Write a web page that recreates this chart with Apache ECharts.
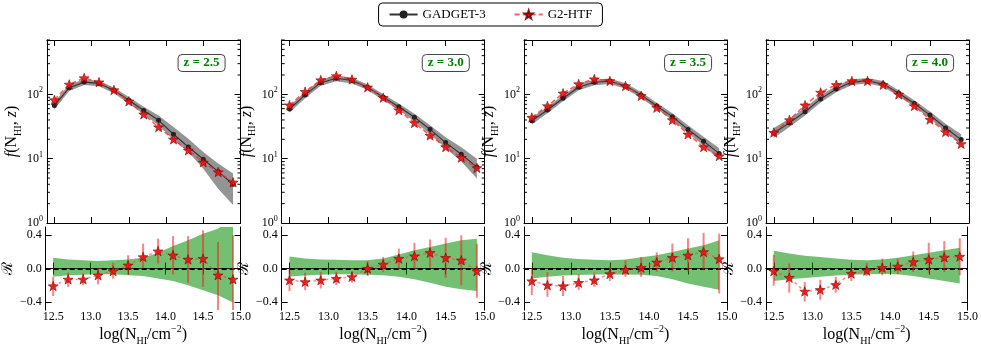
<!DOCTYPE html>
<html><head><meta charset="utf-8">
<script src="https://cdn.jsdelivr.net/npm/echarts@6/dist/echarts.min.js"></script>
<style>html,body{margin:0;padding:0;background:#fff}#c{width:981px;height:347px}</style>
</head><body><div id="c"></div>
<script>
// ---------- data ----------
const logN = [12.5,12.7,12.9,13.1,13.3,13.5,13.7,13.9,14.1,14.3,14.5,14.7,14.9];
const xTicks = [12.5,13.0,13.5,14.0,14.5,15.0];
const rTicks = [-0.4,0.0,0.4];
const fMinorTicks = [2,3,4,5,6,7,8,9,20,30,40,50,60,70,80,90,200,300,400,500,600,700];
const zLabels = ['z = 2.5','z = 3.0','z = 3.5','z = 4.0'];

// z = 2.5
const gadget_z25    = [67,127,155,148,116,81,56,39.5,24,15.2,9.8,6.3,4.0];
const gadget_z25_lo = [58,113,140,134,104,72,49,33,19.4,12.7,7.0,3.4,1.9];
const gadget_z25_hi = [76,142,172,163,128,91,64,47,31,20.5,12.7,8.4,5.9];
const g2htf_z25     = [82,143,180,155,117,78,49,31,20,13.5,8.8,6.2,4.3];
const ratio_z25     = [-0.21,-0.13,-0.13,-0.08,-0.03,0.04,0.14,0.21,0.16,0.11,0.12,-0.08,-0.13];
const ratio_z25_lo  = [-0.33,-0.22,-0.20,-0.19,-0.12,-0.07,0.00,0.06,-0.07,-0.17,-0.22,-0.55,-0.55];
const ratio_z25_hi  = [-0.10,-0.05,-0.06,0.01,0.07,0.16,0.30,0.36,0.39,0.39,0.46,0.32,0.40];
const var_z25_lo    = [-0.10,-0.08,-0.075,-0.07,-0.07,-0.08,-0.09,-0.12,-0.15,-0.20,-0.26,-0.32,-0.41];
const var_z25_hi    = [0.13,0.11,0.10,0.09,0.10,0.11,0.13,0.19,0.27,0.34,0.42,0.48,0.60];

// z = 3.0
const gadget_z30    = [59,98,152,178,164,129,90,64,44,28.6,17.8,11.7,7.4];
const gadget_z30_lo = [52,87,136,160,148,117,81,57,38,24,14.5,9,4.9];
const gadget_z30_hi = [66,110,170,198,182,142,100,72,50,33,21.5,15,10];
const g2htf_z30     = [68,110,167,194,171,129,89,57,36,23,15.2,10.4,7.2];
const ratio_z30     = [-0.14,-0.16,-0.14,-0.12,-0.10,0.00,0.05,0.12,0.15,0.19,0.13,0.10,-0.03];
const ratio_z30_lo  = [-0.27,-0.26,-0.24,-0.20,-0.17,-0.09,-0.04,0.00,0.00,0.01,-0.11,-0.20,-0.35];
const ratio_z30_hi  = [0.00,-0.05,-0.04,-0.04,-0.03,0.09,0.14,0.24,0.31,0.35,0.37,0.40,0.30];
const var_z30_lo    = [-0.095,-0.085,-0.075,-0.07,-0.07,-0.075,-0.08,-0.10,-0.13,-0.17,-0.22,-0.25,-0.27];
const var_z30_hi    = [0.145,0.12,0.11,0.105,0.10,0.10,0.12,0.17,0.22,0.26,0.30,0.34,0.36];

// z = 3.5
const gadget_z35    = [38.8,57,87,129,154,160,135,98,66,45,28.5,18.7,12];
const gadget_z35_lo = [34,51,78,116,139,145,122,88,59,40,25,16,9.6];
const gadget_z35_hi = [44,64,97,143,170,176,149,109,74,51,33,22,14.5];
const g2htf_z35     = [43.7,66,104,145,173,162,135,95,62,40,24,15.2,11];
const ratio_z35     = [-0.15,-0.20,-0.21,-0.17,-0.14,-0.065,-0.015,0.01,0.075,0.13,0.16,0.20,0.115];
const ratio_z35_lo  = [-0.32,-0.34,-0.33,-0.255,-0.22,-0.15,-0.10,-0.10,-0.04,-0.035,-0.035,-0.025,-0.30];
const ratio_z35_hi  = [0.00,-0.04,-0.09,-0.065,-0.05,0.025,0.10,0.14,0.195,0.30,0.365,0.43,0.42];
const var_z35_lo    = [-0.12,-0.10,-0.085,-0.078,-0.073,-0.072,-0.072,-0.075,-0.09,-0.13,-0.18,-0.22,-0.255];
const var_z35_hi    = [0.195,0.16,0.13,0.115,0.105,0.10,0.11,0.135,0.16,0.20,0.24,0.28,0.34];

// z = 4.0
const gadget_z40    = [25,36,53.7,85,121,155,162,145,104,72,47.6,30,19.8];
const gadget_z40_lo = [21,31,47,75,108,140,147,131,93,64,42,26,16.5];
const gadget_z40_hi = [30,42,62,97,136,172,180,161,116,81,54,35,24];
const g2htf_z40     = [25.5,40,68,107,141,162,162,141,100,66,40.7,26,17];
const ratio_z40     = [-0.03,-0.11,-0.275,-0.255,-0.195,-0.06,-0.025,0.01,0.025,0.08,0.11,0.135,0.145];
const ratio_z40_lo  = [-0.205,-0.29,-0.395,-0.375,-0.29,-0.15,-0.09,-0.08,-0.07,-0.04,-0.055,-0.04,-0.08];
const ratio_z40_hi  = [0.165,0.06,-0.16,-0.135,-0.10,0.00,0.07,0.12,0.12,0.205,0.31,0.33,0.365];
const var_z40_lo    = [-0.15,-0.13,-0.115,-0.10,-0.085,-0.075,-0.068,-0.065,-0.07,-0.09,-0.12,-0.15,-0.18];
const var_z40_hi    = [0.215,0.18,0.155,0.14,0.12,0.105,0.10,0.11,0.13,0.16,0.19,0.22,0.25];

const panels = [
  {z: zLabels[0], g: gadget_z25, glo: gadget_z25_lo, ghi: gadget_z25_hi, h: g2htf_z25, r: ratio_z25, rlo: ratio_z25_lo, rhi: ratio_z25_hi, vlo: var_z25_lo, vhi: var_z25_hi},
  {z: zLabels[1], g: gadget_z30, glo: gadget_z30_lo, ghi: gadget_z30_hi, h: g2htf_z30, r: ratio_z30, rlo: ratio_z30_lo, rhi: ratio_z30_hi, vlo: var_z30_lo, vhi: var_z30_hi},
  {z: zLabels[2], g: gadget_z35, glo: gadget_z35_lo, ghi: gadget_z35_hi, h: g2htf_z35, r: ratio_z35, rlo: ratio_z35_lo, rhi: ratio_z35_hi, vlo: var_z35_lo, vhi: var_z35_hi},
  {z: zLabels[3], g: gadget_z40, glo: gadget_z40_lo, ghi: gadget_z40_hi, h: g2htf_z40, r: ratio_z40, rlo: ratio_z40_lo, rhi: ratio_z40_hi, vlo: var_z40_lo, vhi: var_z40_hi}
];

// ---------- layout / style ----------
const FONT = 'Liberation Serif';
const X_MIN = 12.4, X_MAX = 15.0;
const F_MIN = 1, F_MAX = 700;
const R_MIN = -0.5, R_MAX = 0.5;
const LEFTS = [37.5, 281.7, 524, 766];
const PW = 203;
const TOP_T = 40, TOP_H = 183, BOT_T = 227, BOT_H = 88;
const STAR = 'path://M0,-10 L2.35,-3.24 L9.51,-3.09 L3.8,1.24 L5.88,8.09 L0,4 L-5.88,8.09 L-3.8,1.24 L-9.51,-3.09 L-2.35,-3.24 Z';

const grids = [], xAxes = [], yAxes = [], series = [], titles = [];
const axisLineStyle = {show: true, lineStyle: {color: '#000', width: 1}};
const tickStyle = {lineStyle: {color: '#000', width: 1}};
const subRich = {fontFamily: FONT, fontSize: 10, verticalAlign: 'bottom', lineHeight: 10, color: '#000'};
const supRich = {fontFamily: FONT, fontSize: 10, verticalAlign: 'top', lineHeight: 10, color: '#000'};

function xAxisPair(g, showLabel, withName) {
  const base = {
    type: 'value', gridIndex: g, min: X_MIN, max: X_MAX,
    axisLine: axisLineStyle, splitLine: {show: false},
    axisTick: Object.assign({inside: true, length: 6, customValues: xTicks}, tickStyle)
  };
  const bottom = Object.assign({}, base, {
    position: 'bottom',
    axisLabel: {show: showLabel, customValues: xTicks, formatter: v => v.toFixed(1), fontFamily: FONT, fontSize: 12, color: '#000', margin: 1}
  });
  if (withName) {
    bottom.name = 'log(N{s|HI}/cm{p|−2})';
    bottom.nameLocation = 'middle';
    bottom.nameGap = 13;
    bottom.nameTextStyle = {fontFamily: FONT, fontSize: 16, color: '#000', lineHeight: 22, rich: {s: subRich, p: supRich}};
  }
  const top = Object.assign({}, base, {position: 'top', axisLabel: {show: false}});
  xAxes.push(bottom, top);
}

function yAxisPairTop(g) {
  const base = {
    type: 'log', logBase: 10, gridIndex: g, min: F_MIN, max: F_MAX,
    axisLine: axisLineStyle, splitLine: {show: false},
    axisTick: Object.assign({inside: true, length: 6}, tickStyle)
  };
  const left = Object.assign({}, base, {
    position: 'left',
    axisLabel: {
      formatter: v => {
        const e = Math.log10(v);
        if (Math.abs(e - Math.round(e)) > 1e-6) return '';
        return '10{p|' + Math.round(e) + '}';
      },
      fontFamily: FONT, fontSize: 12, color: '#000', margin: 4, lineHeight: 16,
      rich: {p: {fontFamily: FONT, fontSize: 8, verticalAlign: 'top', lineHeight: 8, color: '#000'}}},
    name: '{i|f}(N{s|HI}, {i|z})', nameLocation: 'middle', nameGap: 19,
    nameTextStyle: {fontFamily: FONT, fontSize: 16, color: '#000', lineHeight: 22,
      rich: {i: {fontFamily: FONT, fontStyle: 'italic', fontSize: 16, color: '#000'}, s: subRich}}
  });
  const right = Object.assign({}, base, {position: 'right', axisLabel: {show: false}});
  yAxes.push(left, right);
}

function yAxisPairBot(g) {
  const base = {
    type: 'value', gridIndex: g, min: R_MIN, max: R_MAX,
    axisLine: axisLineStyle, splitLine: {show: false},
    axisTick: Object.assign({inside: true, length: 6, customValues: rTicks}, tickStyle)
  };
  const left = Object.assign({}, base, {
    position: 'left',
    axisLabel: {customValues: rTicks, formatter: v => (v < 0 ? '−' : '') + Math.abs(v).toFixed(1), fontFamily: FONT, fontSize: 12, color: '#000', margin: 4},
    name: 'ℛ', nameLocation: 'middle', nameGap: 23,
    nameTextStyle: {fontFamily: 'DejaVu Serif', fontSize: 15, color: '#000'}
  });
  const right = Object.assign({}, base, {position: 'right', axisLabel: {show: false}});
  yAxes.push(left, right);
}

function bandSeries(g, lo, hi, color) {
  return {
    type: 'custom', name: 'band', xAxisIndex: 2 * g, yAxisIndex: 2 * g, silent: true, clip: true, z: 1,
    data: logN.map((x, i) => [x, lo[i], hi[i]]),
    encode: {x: 0, y: [1, 2]},
    renderItem: (params, api) => {
      if (params.dataIndex !== 0) return null;
      const pts = [];
      for (let i = 0; i < logN.length; i++) pts.push(api.coord([logN[i], hi[i]]));
      for (let i = logN.length - 1; i >= 0; i--) pts.push(api.coord([logN[i], lo[i]]));
      return {type: 'polygon', shape: {points: pts}, style: {fill: color}};
    }
  };
}

function minorTickSeries(g) {
  return {
    type: 'custom', name: 'minor', xAxisIndex: 2 * g, yAxisIndex: 2 * g, silent: true, clip: false, z: 5,
    data: fMinorTicks.map(v => [X_MIN, v]),
    encode: {x: 0, y: 1},
    renderItem: (params, api) => {
      const v = api.value(1);
      const pl = api.coord([X_MIN, v]);
      const pr = api.coord([X_MAX, v]);
      return {type: 'group', children: [
        {type: 'line', shape: {x1: pl[0], y1: pl[1], x2: pl[0] + 3, y2: pl[1]}, style: {stroke: '#000', lineWidth: 1}},
        {type: 'line', shape: {x1: pr[0], y1: pr[1], x2: pr[0] - 3, y2: pr[1]}, style: {stroke: '#000', lineWidth: 1}}
      ]};
    }
  };
}

function errorBarSeries(g, lo, hi) {
  return {
    type: 'custom', name: 'err', xAxisIndex: 2 * g, yAxisIndex: 2 * g, silent: true, clip: true, z: 3,
    data: logN.map((x, i) => [x, lo[i], hi[i]]),
    encode: {x: 0, y: [1, 2]},
    renderItem: (params, api) => {
      const p1 = api.coord([api.value(0), api.value(1)]);
      const p2 = api.coord([api.value(0), api.value(2)]);
      return {type: 'line', shape: {x1: p1[0], y1: p1[1], x2: p2[0], y2: p2[1]},
        style: {stroke: 'rgba(245,30,30,0.55)', lineWidth: 2}};
    }
  };
}

panels.forEach((p, i) => {
  grids[i] = {left: LEFTS[i], top: TOP_T, width: PW, height: TOP_H, containLabel: false};
  grids[4 + i] = {left: LEFTS[i], top: BOT_T, width: PW, height: BOT_H, containLabel: false};
});
panels.forEach((p, i) => { xAxisPair(i, false, false); yAxisPairTop(i); });
panels.forEach((p, i) => { xAxisPair(4 + i, true, true); yAxisPairBot(4 + i); });

panels.forEach((p, i) => {
  const gt = i, gb = 4 + i;
  series.push(bandSeries(gt, p.glo, p.ghi, 'rgba(0,0,0,0.42)'));
  series.push(minorTickSeries(gt));
  series.push({
    type: 'line', name: 'GADGET-3', xAxisIndex: 2 * gt, yAxisIndex: 2 * gt, z: 3,
    data: logN.map((x, k) => [x, p.g[k]]),
    symbol: 'circle', symbolSize: 5, showAllSymbol: true,
    itemStyle: {color: '#222'}, lineStyle: {color: '#333', width: 1.1}
  });
  series.push({
    type: 'line', name: 'G2-HTF', xAxisIndex: 2 * gt, yAxisIndex: 2 * gt, z: 4,
    data: logN.map((x, k) => [x, p.h[k]]),
    symbol: STAR, symbolSize: 10, symbolKeepAspect: true, showAllSymbol: true,
    itemStyle: {color: '#f01010', borderColor: '#700', borderWidth: 0.6, opacity: 0.9},
    lineStyle: {color: 'rgba(255,40,40,0.75)', width: 1.6, type: [5, 3]}
  });
  series.push(bandSeries(gb, p.vlo, p.vhi, 'rgba(0,140,0,0.55)'));
  series.push(errorBarSeries(gb, p.rlo, p.rhi));
  series.push({
    type: 'line', name: 'ratio', xAxisIndex: 2 * gb, yAxisIndex: 2 * gb, z: 4,
    data: logN.map((x, k) => [x, p.r[k]]),
    symbol: STAR, symbolSize: 10, symbolKeepAspect: true, showAllSymbol: true,
    itemStyle: {color: '#f01010', borderColor: '#700', borderWidth: 0.6, opacity: 0.9},
    lineStyle: {color: 'rgba(255,60,60,0.55)', width: 1.6, type: [3, 3]},
    markLine: {silent: true, symbol: 'none', label: {show: false}, z: 2,
      lineStyle: {color: '#000', width: 2, type: [5, 3]},
      data: [{yAxis: 0}]}
  });
  titles.push({
    text: p.z, right: 981 - (LEFTS[i] + PW - 15), top: 54,
    padding: [2, 6], borderColor: '#444', borderWidth: 1, borderRadius: 4, backgroundColor: '#fff',
    textStyle: {fontFamily: FONT, fontWeight: 'bold', fontSize: 13, color: '#008000', lineHeight: 14}
  });
});

const chart = echarts.init(document.getElementById('c'), null, {renderer: 'canvas'});
chart.setOption({
  animation: false,
  backgroundColor: '#fff',
  title: titles,
  legend: {
    data: ['GADGET-3', 'G2-HTF'], top: 3, left: 'center',
    borderColor: '#000', borderWidth: 1, borderRadius: 4, padding: [5, 10],
    itemGap: 28, itemWidth: 28, itemHeight: 10,
    textStyle: {fontFamily: FONT, fontSize: 13, color: '#000'}
  },
  grid: grids, xAxis: xAxes, yAxis: yAxes, series: series
});
</script></body></html>
